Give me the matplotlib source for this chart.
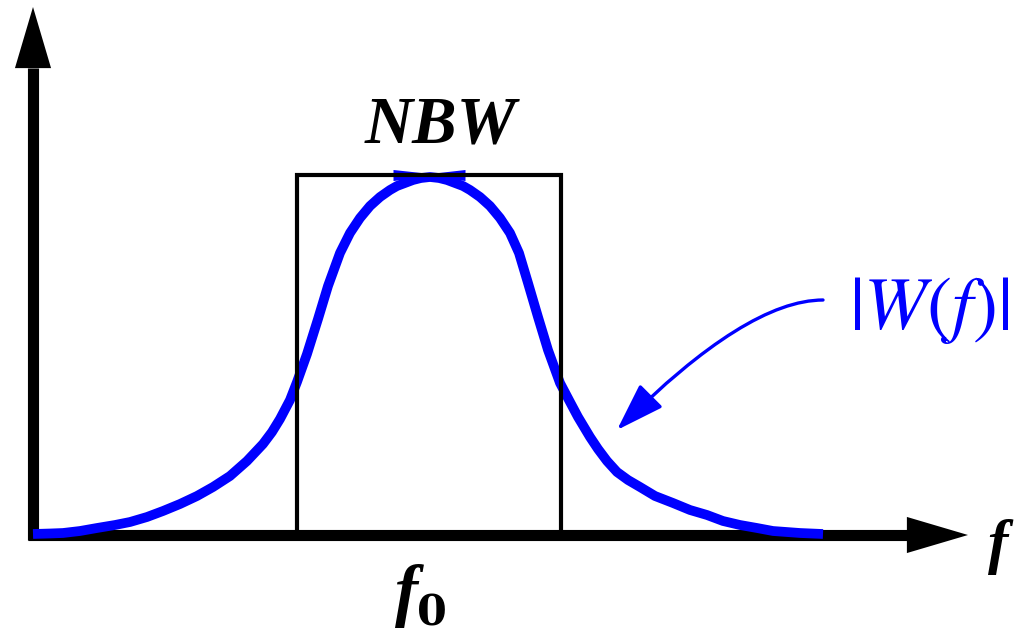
import matplotlib
matplotlib.use("Agg")
import matplotlib.pyplot as plt
import numpy as np
from matplotlib.patches import FancyArrowPatch
from matplotlib.path import Path

plt.rcParams['mathtext.fontset'] = 'stix'

# spectrum |W(f)| (x in px, amplitude above the f axis in px)
freq = [33, 50, 63, 80, 97, 115, 130, 147, 163, 180, 197, 213, 230, 247, 263,
        272, 280, 290, 297, 307, 318, 328, 340, 350, 360, 370, 380, 390, 397,
        405, 413, 421, 430, 439, 447, 455, 463, 470, 480, 490, 500, 510, 519,
        528, 538, 548, 560, 570, 578, 590, 598, 607, 617, 628, 640, 655, 673,
        690, 707, 723, 740, 757, 773, 800, 823]
w_mag = [1, 1.5, 2, 4, 7, 10, 13, 18, 24, 31, 39, 48, 59, 74, 91,
         103, 116, 135, 153, 181, 216, 249, 282, 302, 317, 329, 338, 345, 349,
         352, 355, 357, 358, 357, 355, 352, 349, 345, 338, 329, 317, 302, 282,
         252, 218, 185, 152, 133, 118, 98, 86, 74, 63, 55, 48, 39, 32,
         25, 20, 14, 10, 7, 4, 2, 1]

# equivalent noise bandwidth box
nbw_lo = 297
nbw_hi = 561
nbw_height = 360
f0 = 430

fig = plt.figure(figsize=(10.19, 6.32), dpi=100)
ax = fig.add_axes([0, 0, 1, 1])
ax.set_xlim(0, 1019)
ax.set_ylim(-97, 535)
ax.axis('off')

# axes with arrow heads
ax.plot([28, 907], [0, 0], color='k', lw=8, solid_capstyle='butt', zorder=1)
ax.plot([33, 33], [-5, 467], color='k', lw=8, solid_capstyle='butt', zorder=1)
head = dict(arrowstyle='-|>,head_length=2.2,head_width=0.65', mutation_scale=20,
            lw=0, color='k', shrinkA=0, shrinkB=0)
ax.annotate('', xy=(968, 0), xytext=(907, 0), arrowprops=head)
ax.annotate('', xy=(33, 528), xytext=(33, 467), arrowprops=head)

# the window curve
ax.plot(freq, w_mag, color='blue', lw=7, solid_capstyle='butt',
        solid_joinstyle='round', zorder=2)

# little blue tick at the top of the box
tx = np.array([393, f0, 465])
th = np.array([5.5, 1.5, 5.5])
ax.fill_between(tx, nbw_height - th, nbw_height + th, color='blue', lw=0, zorder=2)

# box
ax.plot([nbw_lo, nbw_lo, nbw_hi, nbw_hi], [0, nbw_height, nbw_height, 0],
        color='k', lw=3, solid_joinstyle='miter', zorder=3)

# labels
ax.text(441, 392, 'NBW', ha='center', va='baseline', fontsize=48,
        family='Liberation Serif', weight='bold', style='italic')
ax.text(407, -78, 'f', ha='center', va='baseline', fontsize=50,
        family='Liberation Serif', weight='bold', style='italic')
ax.text(417, -90, '0', ha='left', va='baseline', fontsize=31,
        family='DejaVu Serif', weight='bold')
ax.text(988, -27, 'f', ha='left', va='baseline', fontsize=44,
        family='Liberation Serif', weight='bold', style='italic')
ax.text(929, 206, r'$|W(f)|$', ha='center', va='baseline', fontsize=54, color='blue')

# curved pointer to the curve
pth = Path([(823, 235), (747, 235), (617, 105)], [Path.MOVETO, Path.CURVE3, Path.CURVE3])
ax.add_patch(FancyArrowPatch(path=pth, arrowstyle='-|>,head_length=30,head_width=10',
                             mutation_scale=1, lw=2.4, color='blue', transform=ax.transData))

fig.savefig('out.png', dpi=100)
